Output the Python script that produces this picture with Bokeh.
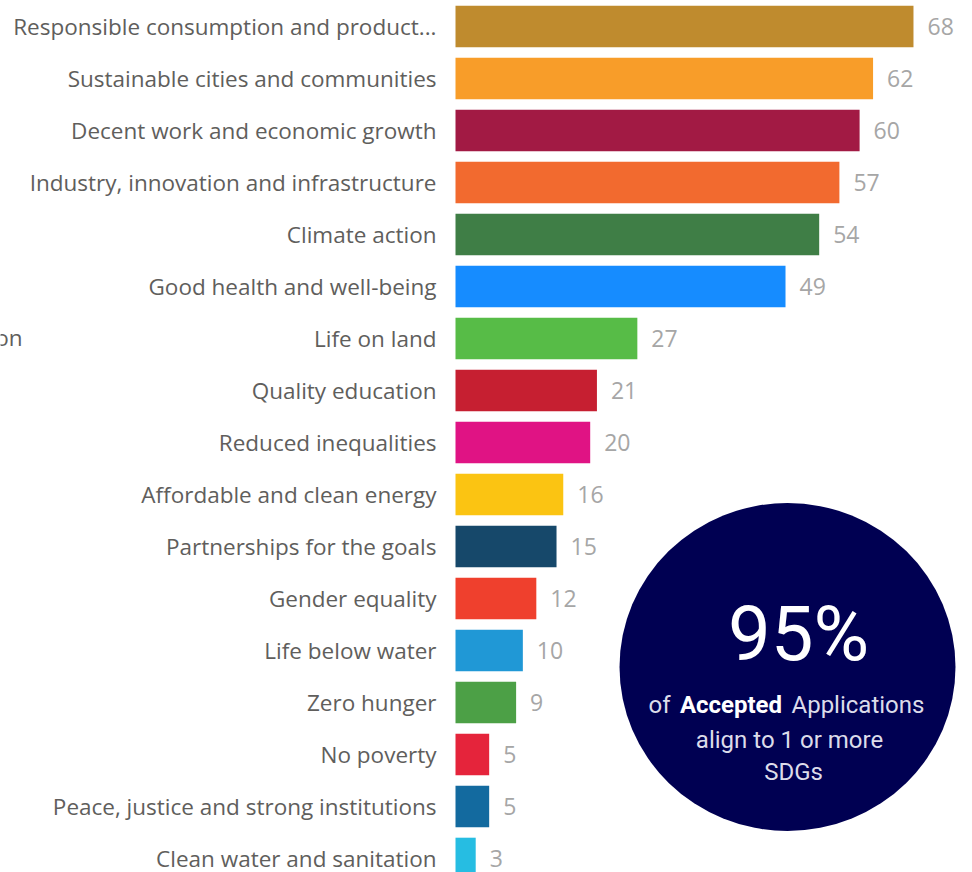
from bokeh.plotting import figure
from bokeh.models import Range1d, ColumnDataSource, Label
from bokeh.core.properties import value
from bokeh.embed import file_html
from bokeh.resources import INLINE

# ---- data ----
categories = [
    "Responsible consumption and product...",
    "Sustainable cities and communities",
    "Decent work and economic growth",
    "Industry, innovation and infrastructure",
    "Climate action",
    "Good health and well-being",
    "Life on land",
    "Quality education",
    "Reduced inequalities",
    "Affordable and clean energy",
    "Partnerships for the goals",
    "Gender equality",
    "Life below water",
    "Zero hunger",
    "No poverty",
    "Peace, justice and strong institutions",
    "Clean water and sanitation",
]
counts = [68, 62, 60, 57, 54, 49, 27, 21, 20, 16, 15, 12, 10, 9, 5, 5, 3]
colors = [
    "#BF8B2E", "#F89D29", "#A21A44", "#F26A2F", "#3F7E46", "#168CFF",
    "#57BC47", "#C61F31", "#E01384", "#FBC412", "#16486A", "#EF402D",
    "#2098D6", "#4CA046", "#E5243B", "#136A9F", "#26BDE2",
]
headline = "95%"
caption_lines = ["align to 1 or more", "SDGs"]

# ---- layout constants ----
W, H = 972, 872
PX = 6.735          # pixels per unit of count
X0 = 455            # pixel where count 0 sits
PITCH = 52          # pixels between bar centres
Y0 = 26             # pixel of first bar centre (from top)

p = figure(width=W, height=H, output_backend="svg", toolbar_location=None,
           x_range=Range1d(-X0 / PX, (W - X0) / PX),
           y_range=Range1d((H - Y0) / PITCH, -Y0 / PITCH),
           min_border=0, background_fill_color="white",
           border_fill_color="white")
p.xaxis.visible = False
p.yaxis.visible = False
p.xgrid.visible = False
p.ygrid.visible = False
p.outline_line_color = None

idx = list(range(len(categories)))
src = ColumnDataSource(dict(y=idx, v=counts, c=colors, cat=categories,
                            lab=[str(v) for v in counts]))

p.hbar(y="y", left=0, right="v", height=0.8, fill_color="c",
       line_color=None, source=src)

p.text(x=0, y="y", text="cat", source=src, x_offset=-19,
       text_align="right", text_baseline="middle",
       text_font=value("Open Sans"), text_font_size="22.5px",
       text_color="#605E5C")

p.text(x="v", y="y", text="lab", source=src, x_offset=14,
       text_align="left", text_baseline="middle",
       text_font=value("Open Sans"), text_font_size="23px",
       text_color="#A6A6A6")

# cut-off label at the left edge
p.add_layout(Label(x=22, y=H - 337, x_units="screen", y_units="screen",
                   text="on", text_align="right", text_baseline="middle",
                   text_font="Open Sans", text_font_size="22.5px",
                   text_color="#605E5C"))

# ---- circle callout ----
def dx(px):   # page px -> data x
    return (px - X0) / PX

def dy(py):   # page px -> data y
    return (py - Y0) / PITCH

p.ellipse(x=[dx(787)], y=[dy(666.5)], width=336, height=328,
          width_units="screen", height_units="screen",
          fill_color="#000052", line_color=None)

def lab(text, px, py, size, color, align="center", style="normal"):
    p.add_layout(Label(x=px, y=H - py, x_units="screen", y_units="screen",
                       text=text, text_align=align, text_baseline="middle",
                       text_font="Roboto", text_font_size=size,
                       text_font_style=style, text_color=color))

lab(headline, 798, 633, "76px", "white")
lab("of", 670, 704, "24px", "#DCDCEA", align="right")
lab("Accepted", 730.5, 704, "24px", "white", style="bold")
lab("Applications", 791, 704, "24px", "#DCDCEA", align="left")
lab(caption_lines[0], 789, 739, "24px", "#DCDCEA")
lab(caption_lines[1], 793, 771, "24px", "#DCDCEA")

open("out.html", "w").write(file_html(p, INLINE))
